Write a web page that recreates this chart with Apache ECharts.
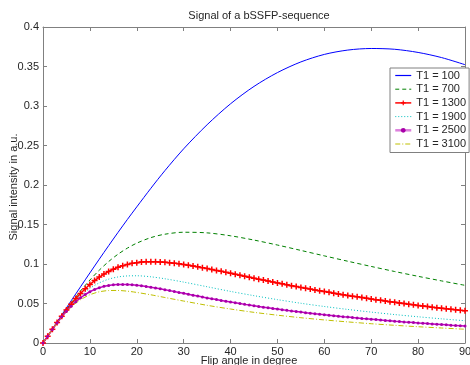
<!DOCTYPE html>
<html>
<head>
<meta charset="utf-8">
<script src="https://cdn.jsdelivr.net/npm/echarts@6/dist/echarts.min.js"></script>
<style>html,body{margin:0;padding:0;background:#fff}#c{width:470px;height:365px}</style>
</head>
<body>
<div id="c"></div>
<script>
const titleText = 'Signal of a bSSFP-sequence';
const xName = 'Flip angle in degree';
const yName = 'Signal intensity in a.u.';
const seriesNames = ['T1 = 100', 'T1 = 700', 'T1 = 1300', 'T1 = 1900', 'T1 = 2500', 'T1 = 3100'];
const seriesColors = ['#0000ff', '#008000', '#ff0000', '#00bfbf', '#bf00bf', '#bfbf00'];

const anglesCoarse = [0,2,4,6,8,10,12,14,16,18,20,23,26,30,35,40,45,50,55,60,65,70,75,80,85,90];
const anglesFine = [0,1,2,3,4,5,6,7,8,9,10,11,12,13,14,15,16,17,18,19,20,21,22,23,24,25,26,27,28,29,
  30,31,32,33,34,35,36,37,38,39,40,41,42,43,44,45,46,47,48,49,50,51,52,53,54,55,56,57,58,59,
  60,61,62,63,64,65,66,67,68,69,70,71,72,73,74,75,76,77,78,79,80,81,82,83,84,85,86,87,88,89,90];

const t1_100 = [0,.0178,.0356,.0534,.0711,.0887,.1061,.1232,.1400,.1564,.1723,.1958,.2182,.2458,.2763,.3028,.3248,.3423,.3558,.3653,.3708,.3728,.3718,.3678,.3613,.3523];
const t1_700 = [0,.0174,.0344,.0506,.0658,.0797,.0922,.1031,.1124,.1201,.1264,.1334,.1377,.1402,.1394,.1357,.1303,.1240,.1172,.1103,.1035,.0969,.0905,.0844,.0786,.0730];
const t1_1300 = [
  0,.0087,.0173,.0258,.0340,.0418,.0492,.0562,.0627,.0687,
  .0741,.0790,.0834,.0872,.0906,.0934,.0959,.0979,.0995,.1008,
  .1017,.1024,.1028,.1029,.1029,.1026,.1023,.1017,.1011,.1003,
  .0995,.0985,.0975,.0965,.0954,.0942,.0931,.0919,.0907,.0894,
  .0882,.0870,.0857,.0845,.0833,.0820,.0808,.0796,.0784,.0772,
  .0761,.0749,.0737,.0726,.0715,.0704,.0693,.0682,.0672,.0661,
  .0651,.0641,.0631,.0621,.0612,.0602,.0593,.0584,.0575,.0566,
  .0557,.0548,.0540,.0532,.0523,.0515,.0507,.0499,.0492,.0484,
  .0476,.0469,.0462,.0454,.0447,.0440,.0433,.0427,.0420,.0413,
  .0407];
const t1_1900 = [0,.0173,.0335,.0479,.0598,.0692,.0761,.0808,.0836,.0849,.0851,.0838,.0813,.0771,.0712,.0653,.0599,.0549,.0503,.0462,.0425,.0391,.0360,.0332,.0306,.0282];
const t1_2500 = [
  0,.0087,.0172,.0254,.0331,.0402,.0466,.0523,.0572,.0614,
  .0649,.0678,.0700,.0717,.0729,.0737,.0741,.0742,.0740,.0736,
  .0731,.0724,.0715,.0706,.0696,.0686,.0675,.0663,.0652,.0640,
  .0629,.0617,.0605,.0594,.0583,.0571,.0560,.0550,.0539,.0529,
  .0518,.0509,.0499,.0489,.0480,.0471,.0462,.0453,.0445,.0437,
  .0429,.0421,.0413,.0405,.0398,.0391,.0384,.0377,.0370,.0364,
  .0358,.0351,.0345,.0339,.0333,.0328,.0322,.0317,.0311,.0306,
  .0301,.0296,.0291,.0286,.0281,.0276,.0272,.0267,.0263,.0259,
  .0254,.0250,.0246,.0242,.0238,.0234,.0230,.0226,.0223,.0219,
  .0215];
const t1_3100 = [0,.0172,.0327,.0454,.0548,.0611,.0648,.0664,.0665,.0656,.0640,.0610,.0576,.0531,.0477,.0430,.0388,.0352,.0320,.0292,.0267,.0244,.0224,.0206,.0190,.0174];

const xTicks = [0,10,20,30,40,50,60,70,80,90];
const yTicks = [0,0.05,0.1,0.15,0.2,0.25,0.3,0.35,0.4];

function pairs(xs, ys){ return xs.map((x,i)=>[x, ys[i]]); }

const FONT = '"Liberation Sans", Arial, Helvetica, sans-serif';
const AX = '#808080';
const TXT = '#262626';

const chart = echarts.init(document.getElementById('c'), null, {renderer:'canvas'});
const axisCommon = {
  type:'value',
  axisLine:{show:true, onZero:false, lineStyle:{color:AX, width:1}},
  axisTick:{show:true, inside:true, length:4, lineStyle:{color:AX}},
  splitLine:{show:false}
};
const plus = 'path://M-1,-4H1V-1H4V1H1V4H-1V1H-4V-1H-1Z';

const legendItems = [
  {name:seriesNames[0], itemStyle:{color:seriesColors[0], opacity:0}, lineStyle:{color:seriesColors[0], width:1.2, type:'solid', opacity:1}},
  {name:seriesNames[1], itemStyle:{opacity:0}, lineStyle:{color:seriesColors[1], width:1, type:[4,3]}},
  {name:seriesNames[2], itemStyle:{color:seriesColors[2]}, lineStyle:{color:seriesColors[2], width:1.5, type:'solid'}},
  {name:seriesNames[3], itemStyle:{opacity:0}, lineStyle:{color:seriesColors[3], width:1, type:[1,2]}},
  {name:seriesNames[4], itemStyle:{color:'#a800a8'}, lineStyle:{color:'#dd80dd', width:2.5, type:'solid'}},
  {name:seriesNames[5], itemStyle:{opacity:0}, lineStyle:{color:seriesColors[5], width:1, type:[5,2,1,2]}}
];

chart.setOption({
  animation:false,
  backgroundColor:'#fff',
  title:{text:titleText, left:254, top:5, textAlign:'center',
    textStyle:{fontFamily:FONT, fontSize:11, fontWeight:'normal', color:TXT}},
  grid:{left:43, right:5, top:27, bottom:22, containLabel:false, outerBoundsMode:'none'},
  legend:{
    orient:'vertical', left:390, top:68,
    padding:[2,3,3,4], itemWidth:16, itemHeight:6, itemGap:2.7,
    backgroundColor:'#fff', borderColor:AX, borderWidth:1, borderRadius:0,
    textStyle:{fontFamily:FONT, fontSize:11, color:TXT, lineHeight:10},
    data:legendItems
  },
  graphic:[
    {type:'text', x:249, y:361, silent:true,
      style:{text:xName, fill:TXT, font:'11px ' + FONT, textAlign:'center', textVerticalAlign:'middle'}},
    {type:'text', x:14, y:187, rotation:Math.PI/2, silent:true,
      style:{text:yName, fill:TXT, font:'11px ' + FONT, textAlign:'center', textVerticalAlign:'middle'}}
  ],
  xAxis:[
    Object.assign({}, axisCommon, {position:'bottom', min:xTicks[0], max:xTicks[xTicks.length-1], interval:10,
      axisLabel:{color:TXT, fontFamily:FONT, fontSize:11, margin:3}}),
    Object.assign({}, axisCommon, {position:'top', min:xTicks[0], max:xTicks[xTicks.length-1], interval:10,
      axisLabel:{show:false}})
  ],
  yAxis:[
    Object.assign({}, axisCommon, {position:'left', min:yTicks[0], max:yTicks[yTicks.length-1], interval:0.05,
      axisLabel:{color:TXT, fontFamily:FONT, fontSize:11, margin:4}}),
    Object.assign({}, axisCommon, {position:'right', min:yTicks[0], max:yTicks[yTicks.length-1], interval:0.05,
      axisLabel:{show:false}})
  ],
  series:[
    {name:seriesNames[0], type:'line', data:pairs(anglesCoarse, t1_100), symbol:'none', smooth:0.3,
      lineStyle:{color:seriesColors[0], width:1}, itemStyle:{color:seriesColors[0]}},
    {name:seriesNames[1], type:'line', data:pairs(anglesCoarse, t1_700), symbol:'none', smooth:0.3,
      lineStyle:{color:seriesColors[1], width:1, type:[4,3]}, itemStyle:{color:seriesColors[1]}},
    {name:seriesNames[2], type:'line', data:pairs(anglesFine, t1_1300), symbol:plus, symbolSize:6, showAllSymbol:true,
      lineStyle:{color:seriesColors[2], width:1.5}, itemStyle:{color:seriesColors[2]}},
    {name:seriesNames[3], type:'line', data:pairs(anglesCoarse, t1_1900), symbol:'none', smooth:0.3,
      lineStyle:{color:seriesColors[3], width:1, type:[1,2]}, itemStyle:{color:seriesColors[3]}},
    {name:seriesNames[4], type:'line', data:pairs(anglesFine, t1_2500), symbol:'circle', symbolSize:3, showAllSymbol:true,
      lineStyle:{color:seriesColors[4], width:1.5}, itemStyle:{color:'#a800a8'}},
    {name:seriesNames[5], type:'line', data:pairs(anglesCoarse, t1_3100), symbol:'none', smooth:0.3,
      lineStyle:{color:seriesColors[5], width:1, type:[5,2,1,2]}, itemStyle:{color:seriesColors[5]}}
  ]
});
</script>
</body>
</html>
